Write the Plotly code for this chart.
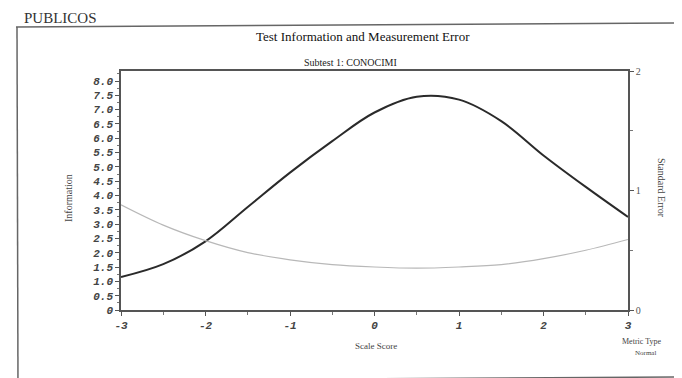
import plotly.graph_objects as go

# ---- data ----
scale_score = [-3, -2.5, -2, -1.5, -1, -0.5, 0, 0.5, 1, 1.5, 2, 2.5, 3]
information = [1.15, 1.6, 2.4, 3.6, 4.8, 5.9, 6.9, 7.45, 7.35, 6.6, 5.4, 4.3, 3.25]
standard_error = [0.88, 0.71, 0.58, 0.48, 0.42, 0.38, 0.36, 0.35, 0.36, 0.38, 0.43, 0.50, 0.59]

x_ticks = [-3, -2, -1, 0, 1, 2, 3]
y_ticks = [i * 0.5 for i in range(17)]
y_ticklabels = ["0"] + [f"{v:.1f}" for v in y_ticks[1:]]
y2_ticks = [0, 1, 2]

W, H = 682, 378
L, R, T, B = 113, 62, 63, 76
pw, ph = W - L - R, H - T - B


def px(xp):
    return (xp - L) / pw


def py(yp):
    return (H - B - yp) / ph


fig = go.Figure()
fig.add_trace(go.Scatter(x=scale_score, y=information, mode="lines",
                         line=dict(color="#2a2a2a", width=2, shape="spline"),
                         showlegend=False))
fig.add_trace(go.Scatter(x=scale_score, y=standard_error, mode="lines", yaxis="y2",
                         line=dict(color="#b8b8b8", width=1.2, shape="spline"),
                         showlegend=False))

tickfont = dict(family="Liberation Mono", size=11, color="#444", weight="bold", style="italic")
fig.update_layout(
    width=W, height=H,
    margin=dict(l=L, r=R, t=T, b=B),
    paper_bgcolor="white", plot_bgcolor="white",
    xaxis=dict(range=[-3, 3], tickvals=x_ticks, ticktext=[str(v) for v in x_ticks],
               ticks="outside", ticklen=4, tickcolor="#555", showgrid=False, zeroline=False,
               showline=True, linecolor="#555", linewidth=1.5, mirror=True,
               tickfont=tickfont,
               minor=dict(tickvals=[-2.5, -1.5, -0.5, 0.5, 1.5, 2.5], ticks="outside",
                          ticklen=3, tickcolor="#777")),
    yaxis=dict(range=[0, 8.35], tickvals=y_ticks, ticktext=y_ticklabels,
               ticks="outside", ticklen=4, tickcolor="#555", showgrid=False, zeroline=False,
               showline=True, linecolor="#555", linewidth=1.5, tickfont=tickfont,
               minor=dict(dtick=0.25, ticks="outside", ticklen=2, tickcolor="#777")),
    yaxis2=dict(range=[0, 2], overlaying="y", side="right", tickvals=y2_ticks,
                ticks="outside", ticklen=4, tickcolor="#555", showgrid=False, zeroline=False,
                showline=True, linecolor="#555", linewidth=1.5,
                tickfont=dict(family="Liberation Serif", size=10, color="#555"),
                minor=dict(tickvals=[0.5, 1.5], ticks="outside", ticklen=3, tickcolor="#777")),
)

serif = "Liberation Serif"
ann = [
    dict(text="PUBLICOS", x=px(14), y=py(0), xanchor="left", yanchor="top",
         font=dict(family=serif, size=15, color="#333")),
    dict(text="Test Information and Measurement Error", x=px(355), y=py(28),
         xanchor="center", yanchor="middle", font=dict(family=serif, size=13, color="#111")),
    dict(text="Subtest 1: CONOCIMI", x=px(342), y=py(55),
         xanchor="center", yanchor="middle", font=dict(family=serif, size=10, color="#222")),
    dict(text="Information", x=px(60), y=py(190), textangle=-90,
         xanchor="center", yanchor="middle", font=dict(family=serif, size=10, color="#444")),
    dict(text="Standard Error", x=px(654), y=py(180), textangle=90,
         xanchor="center", yanchor="middle", font=dict(family=serif, size=10, color="#444")),
    dict(text="Scale Score", x=px(368), y=py(338),
         xanchor="center", yanchor="middle", font=dict(family=serif, size=9, color="#444")),
    dict(text="Metric Type", x=px(634), y=py(333),
         xanchor="center", yanchor="middle", font=dict(family=serif, size=8, color="#444")),
    dict(text="Normal", x=px(637), y=py(345),
         xanchor="center", yanchor="middle", font=dict(family=serif, size=7, color="#444")),
]
for a in ann:
    a.update(xref="paper", yref="paper", showarrow=False)
fig.update_layout(annotations=ann)

shapes = [
    dict(x0=px(8), y0=py(19), x1=px(682), y1=py(15)),
    dict(x0=px(9), y0=py(19), x1=px(10), y1=py(378)),
    dict(x0=px(165), y0=py(372), x1=px(682), y1=py(369)),
]
for s in shapes:
    s.update(type="line", xref="paper", yref="paper", line=dict(color="#666", width=1.5))
fig.update_layout(shapes=shapes)

fig.write_html("out.html")
